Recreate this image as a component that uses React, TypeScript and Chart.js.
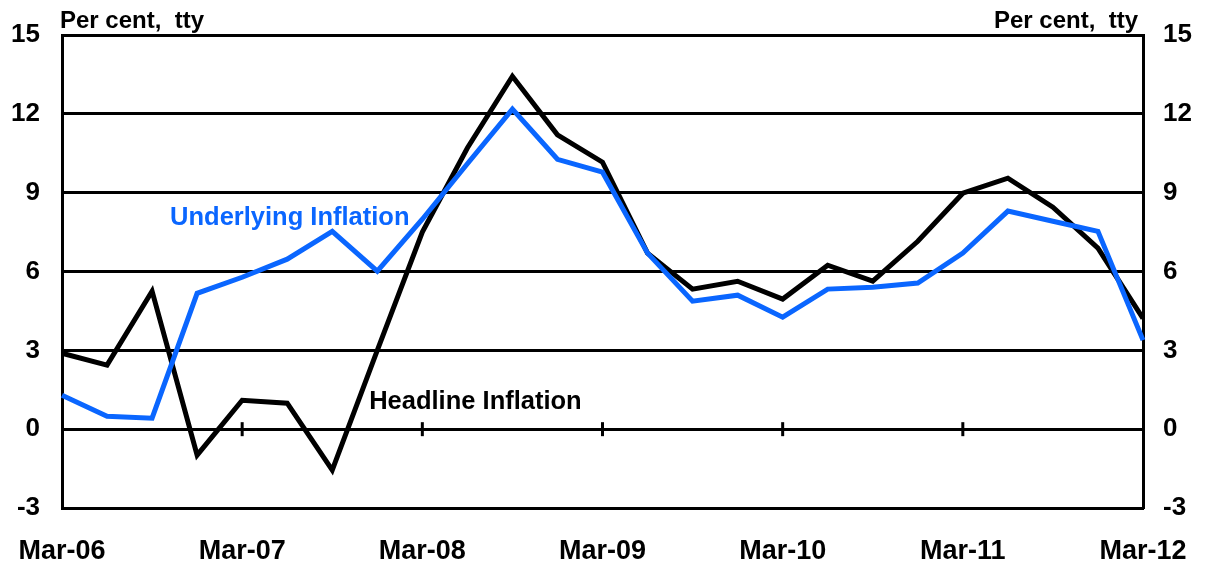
import React, { useEffect, useRef } from 'react';
import { Chart, registerables } from 'chart.js';
Chart.register(...registerables);

const quarters = [
  'Mar-06', 'Jun-06', 'Sep-06', 'Dec-06',
  'Mar-07', 'Jun-07', 'Sep-07', 'Dec-07',
  'Mar-08', 'Jun-08', 'Sep-08', 'Dec-08',
  'Mar-09', 'Jun-09', 'Sep-09', 'Dec-09',
  'Mar-10', 'Jun-10', 'Sep-10', 'Dec-10',
  'Mar-11', 'Jun-11', 'Sep-11', 'Dec-11',
  'Mar-12',
];

const headline = [
  2.89, 2.44, 5.25, -0.99,
  1.1, 0.99, -1.56, 3.0,
  7.5, 10.7, 13.43, 11.2,
  10.16, 6.7, 5.33, 5.63,
  4.95, 6.24, 5.63, 7.15,
  8.98, 9.55, 8.45, 6.89,
  4.22,
];

const underlying = [
  1.29, 0.49, 0.42, 5.17,
  5.78, 6.47, 7.53, 6.01,
  7.99, 10.1, 12.18, 10.27,
  9.78, 6.7, 4.87, 5.1,
  4.26, 5.33, 5.4, 5.56,
  6.7, 8.3, 7.91, 7.53,
  3.39,
];

const yMin = -3;
const yMax = 15;
const yStep = 3;
const unitLabel = 'Per cent,  tty';
const underlyingLabel = 'Underlying Inflation';
const headlineLabel = 'Headline Inflation';

const BLUE = '#0a66ff';
const FONT = '"Liberation Sans", Arial, Helvetica, sans-serif';

export default function App() {
  const ref = useRef<HTMLCanvasElement>(null);

  useEffect(() => {
    if (!ref.current) return;

    const decorPlugin = {
      id: 'decor',
      beforeDatasetsDraw(chart: any) {
        const { ctx, scales } = chart;
        const x = scales.x;
        const y = scales.y;
        const y0 = y.getPixelForValue(0);
        ctx.save();
        ctx.strokeStyle = '#000';
        ctx.lineWidth = 3;
        quarters.forEach((_q, i) => {
          if (i % 4 === 0 && i > 0 && i < quarters.length - 1) {
            const px = x.getPixelForValue(i);
            ctx.beginPath();
            ctx.moveTo(px, y0 - 7);
            ctx.lineTo(px, y0 + 7);
            ctx.stroke();
          }
        });
        ctx.restore();
      },
      afterDraw(chart: any) {
        const { ctx, chartArea, scales } = chart;
        const x = scales.x;
        const y = scales.y;
        ctx.save();
        ctx.font = `bold 24px ${FONT}`;
        ctx.fillStyle = '#000';
        ctx.textBaseline = 'alphabetic';
        ctx.textAlign = 'left';
        ctx.fillText(unitLabel, chartArea.left - 2, 28);
        ctx.textAlign = 'right';
        ctx.fillText(unitLabel, chartArea.right - 5, 28);

        ctx.font = `bold 25.5px ${FONT}`;
        ctx.textAlign = 'left';
        ctx.fillStyle = BLUE;
        ctx.fillText(underlyingLabel, x.getPixelForValue(2.4), y.getPixelForValue(7.76));
        ctx.fillStyle = '#000';
        ctx.fillText(headlineLabel, x.getPixelForValue(6.82), y.getPixelForValue(0.76));
        ctx.restore();
      },
    };

    const tickFont = { family: FONT, size: 26, weight: 'bold' as const };

    const chart = new Chart(ref.current, {
      type: 'line',
      data: {
        labels: quarters,
        datasets: [
          {
            label: underlyingLabel,
            data: underlying,
            borderColor: BLUE,
            borderWidth: 5,
            pointRadius: 0,
            tension: 0,
            fill: false,
            yAxisID: 'y',
          },
          {
            label: headlineLabel,
            data: headline,
            borderColor: '#000',
            borderWidth: 5,
            pointRadius: 0,
            tension: 0,
            fill: false,
            yAxisID: 'y',
          },
        ],
      },
      options: {
        animation: false,
        responsive: true,
        maintainAspectRatio: false,
        layout: { padding: { top: 35, left: 0, right: 0, bottom: 0 } },
        plugins: {
          legend: { display: false },
          tooltip: { enabled: false },
        },
        scales: {
          x: {
            type: 'category',
            offset: false,
            grid: { display: false, drawTicks: false },
            border: { display: true, color: '#000', width: 3 },
            ticks: {
              autoSkip: false,
              maxRotation: 0,
              minRotation: 0,
              color: '#000',
              padding: 27,
              font: { family: FONT, size: 27, weight: 'bold' },
              callback: function (this: any, value: any, index: number) {
                return index % 4 === 0 ? quarters[index] : '';
              },
            },
            afterFit(s: any) {
              s.height = 58;
              s.paddingLeft = 0;
              s.paddingRight = 0;
            },
          },
          y: {
            position: 'left',
            min: yMin,
            max: yMax,
            grid: { color: '#000', lineWidth: 3, drawTicks: false },
            border: { display: true, color: '#000', width: 3 },
            ticks: { stepSize: yStep, color: '#000', padding: 22, font: tickFont },
            afterFit(s: any) {
              s.width = 62;
              s.paddingTop = 0;
              s.paddingBottom = 0;
            },
          },
          y2: {
            position: 'right',
            min: yMin,
            max: yMax,
            grid: { display: false, drawTicks: false },
            border: { display: true, color: '#000', width: 3 },
            ticks: { stepSize: yStep, color: '#000', padding: 20, font: tickFont },
            afterFit(s: any) {
              s.width = 65;
              s.paddingTop = 0;
              s.paddingBottom = 0;
            },
          },
        },
      },
      plugins: [decorPlugin],
    });

    return () => chart.destroy();
  }, []);

  return (
    <div style={{ position: 'absolute', left: 0, top: 0, width: 1208, height: 566, background: '#fff' }}>
      <canvas ref={ref} />
    </div>
  );
}
